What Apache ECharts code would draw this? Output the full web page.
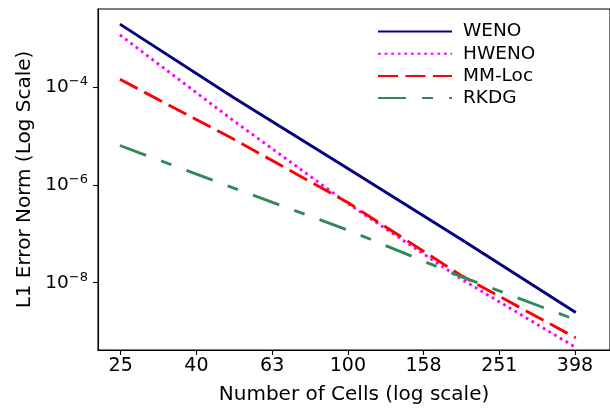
<!DOCTYPE html>
<html>
<head>
<meta charset="utf-8">
<script src="https://cdn.jsdelivr.net/npm/echarts@6/dist/echarts.min.js"></script>
<style>
html,body{margin:0;padding:0;background:#fff;}
#chart{width:610px;height:410px;}
</style>
</head>
<body>
<div id="chart"></div>
<script>
// ---- data ----
const cells = [25, 50, 100, 200, 400];
const weno  = [2.0e-3, 6.2e-5, 2.2e-6, 7.6e-8, 2.45e-9];
const hweno = [1.2e-3, 2.07e-5, 4.2e-7, 1.17e-8, 4.7e-10];
const mmLoc = [1.48e-4, 8.7e-6, 4.4e-7, 1.38e-8, 7.4e-10];
const rkdg  = [6.5e-6, 8.7e-7, 1.2e-7, 1.32e-8, 1.74e-9];

const xTickValues = [25.119, 39.811, 63.096, 100, 158.489, 251.189, 398.107];
const xTickLabels = ['25', '40', '63', '100', '158', '251', '398'];
const yTickValues = [1e-4, 1e-6, 1e-8];
const yTickExps   = ['−4', '−6', '−8'];

const seriesNames = ['WENO', 'HWENO', 'MM-Loc', 'RKDG'];
const seriesData = [weno, hweno, mmLoc, rkdg];
const seriesColors = ['#000080', '#ff00ff', '#ff0000', '#2e8b57'];
const seriesDash = ['solid', [2.8, 3.8], [20, 7.5], [28, 16, 11, 16]];

const font = 'DejaVu Sans';

const chart = echarts.init(document.getElementById('chart'), null, {renderer: 'canvas'});

const series = seriesNames.map((name, i) => ({
  name: name,
  type: 'line',
  data: cells.map((c, j) => [c, seriesData[i][j]]),
  symbol: 'none',
  silent: true,
  animation: false,
  lineStyle: {color: seriesColors[i], width: 2.9, type: seriesDash[i], cap: 'butt'},
  itemStyle: {color: seriesColors[i]}
}));

chart.setOption({
  animation: false,
  backgroundColor: '#ffffff',
  grid: {left: 98, top: 9, right: -6, bottom: 57, show: true, borderColor: '#000', borderWidth: 1.1, backgroundColor: 'transparent'},
  legend: {
    orient: 'vertical',
    left: 377,
    top: 22,
    padding: 0,
    itemWidth: 74,
    itemHeight: 0.1,
    itemGap: 3.2,
    data: seriesNames,
    textStyle: {fontFamily: font, fontSize: 18.5, color: '#000', lineHeight: 18, padding: [0, 0, 0, 6]}
  },
  xAxis: {
    type: 'log',
    logBase: 10,
    min: 21.88,
    max: 492.6,
    name: 'Number of Cells (log scale)',
    nameLocation: 'middle',
    nameGap: 35,
    nameTextStyle: {fontFamily: font, fontSize: 20, color: '#000'},
    axisLine: {show: true, lineStyle: {color: '#000', width: 1.1}},
    axisTick: {show: true, length: 5, lineStyle: {color: '#000', width: 1.1}, customValues: xTickValues},
    axisLabel: {
      fontFamily: font, fontSize: 19, color: '#000', margin: 7,
      customValues: xTickValues,
      formatter: function (v) {
        const k = xTickValues.findIndex(t => Math.abs(t - v) / t < 1e-3);
        return k >= 0 ? xTickLabels[k] : '';
      }
    },
    splitLine: {show: false},
    minorTick: {show: false}
  },
  yAxis: {
    type: 'log',
    logBase: 10,
    min: 4.17e-10,
    max: 4.09e-3,
    name: 'L1 Error Norm (Log Scale)',
    nameLocation: 'middle',
    nameGap: 63,
    nameRotate: 90,
    nameTextStyle: {fontFamily: font, fontSize: 20, color: '#000'},
    axisLine: {show: true, lineStyle: {color: '#000', width: 1.1}},
    axisTick: {show: true, length: 5, lineStyle: {color: '#000', width: 1.1}, customValues: yTickValues},
    axisLabel: {
      fontFamily: font, color: '#000', margin: 10,
      customValues: yTickValues,
      formatter: function (v) {
        const k = yTickValues.findIndex(t => Math.abs(t - v) / t < 1e-3);
        return k >= 0 ? '{b|10}{s|' + yTickExps[k] + '}' : '';
      },
      rich: {
        b: {fontFamily: font, fontSize: 18.5, color: '#000'},
        s: {fontFamily: font, fontSize: 13, color: '#000', padding: [0, 0, 11, 0]}
      }
    },
    splitLine: {show: false},
    minorTick: {show: false}
  },
  series: series
});
</script>
</body>
</html>
